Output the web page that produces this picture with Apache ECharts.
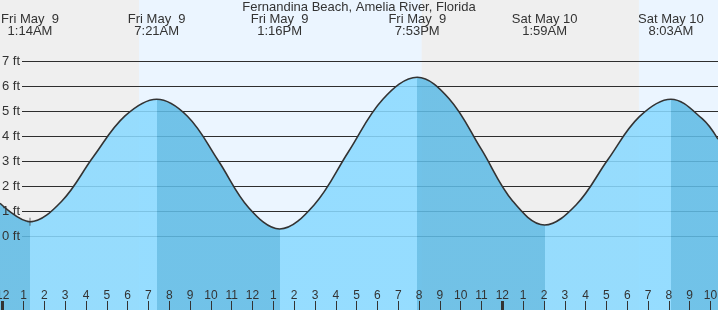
<!DOCTYPE html>
<html>
<head>
<meta charset="utf-8">
<script src="https://cdn.jsdelivr.net/npm/echarts@6/dist/echarts.min.js"></script>
<style>
  html, body { margin: 0; padding: 0; background: #efefef; }
  #chart { width: 718px; height: 310px; }
</style>
</head>
<body>
<div id="chart"></div>
<script>
// ---------- data ----------
const chartTitle = 'Fernandina Beach, Amelia River, Florida';

// hours since midnight, Fri May 9
const eventHours = [1.311, 7.397, 13.304, 19.914, 26.033, 32.099];
const eventFeet  = [0.60, 5.50, 0.31, 6.38, 0.47, 5.50];
const eventKinds = ['L', 'H', 'L', 'H', 'L', 'H'];
const eventDates = ['Fri May  9', 'Fri May  9', 'Fri May  9', 'Fri May  9', 'Sat May 10', 'Sat May 10'];
const eventTimes = ['1:14AM', '7:21AM', '1:16PM', '7:53PM', '1:59AM', '8:03AM'];

// daylight periods (sunrise, sunset) in hours
const daylightStart = [6.547, 30.562];
const daylightEnd   = [20.125, 34.36];

// tide curve samples: extremes plus readings at quarter points between them
const curveHours = [-0.13, 1.311, 2.833, 4.354, 5.876, 7.397, 8.874, 10.351, 11.827, 13.304,
  14.957, 16.609, 18.262, 19.914, 21.444, 22.974, 24.503, 26.033, 27.55, 29.066,
  30.583, 32.099, 33.6, 34.36];
const curveFeet = [1.34, 0.60, 1.42, 3.20, 4.83, 5.50, 4.82, 3.05, 1.15, 0.31,
  1.27, 3.40, 5.50, 6.38, 5.52, 3.52, 1.42, 0.47, 1.28, 3.08,
  4.80, 5.50, 4.72, 3.90];

const feetTicks = [0, 1, 2, 3, 4, 5, 6, 7];
const hourTicks = [];
for (let h = 0; h <= 34; h++) hourTicks.push(h);
const hourLabels = ['12','1','2','3','4','5','6','7','8','9','10','11',
  '12','1','2','3','4','5','6','7','8','9','10','11',
  '12','1','2','3','4','5','6','7','8','9','10'];
const midnightTicks = [0, 24];

// ---------- styling ----------
const X_MIN = -0.13, X_MAX = 34.36;
const Y_MIN = -2.932, Y_MAX = 9.468;
const FONT = '"Liberation Sans", Arial, sans-serif';
const TEXT = '#333';
const NIGHT = '#efefef', DAY = '#ebf5ff';
const FILL_LIGHT = 'rgb(137,217,255)', FILL_DARK = 'rgb(95,187,229)';
const SMOOTH = 0.37;

// pieces for falling (dark) vs rising (light)
const pieces = [];
let prev = X_MIN - 1;
for (let i = 0; i < eventHours.length; i++) {
  pieces.push({ gte: prev, lt: eventHours[i], color: eventKinds[i] === 'L' ? FILL_DARK : FILL_LIGHT });
  prev = eventHours[i];
}
pieces.push({ gte: prev, lte: X_MAX + 1, color: eventKinds[eventKinds.length - 1] === 'H' ? FILL_DARK : FILL_LIGHT });

const curveData = curveHours.map((h, i) => [h, curveFeet[i]]);
const lowIdx = eventKinds.indexOf('L');

const chart = echarts.init(document.getElementById('chart'), null, { renderer: 'canvas' });
chart.setOption({
  backgroundColor: NIGHT,
  animation: false,
  title: {
    text: chartTitle, left: 'center', top: 0, padding: 0,
    textStyle: { fontFamily: FONT, fontSize: 13, fontWeight: 'normal', color: TEXT, lineHeight: 14 }
  },
  grid: [
    { left: 0, right: 0, top: 0, bottom: 0, containLabel: false, outerBoundsMode: 'none' },
    { left: 22, right: 0, top: 0, bottom: 0, containLabel: false, outerBoundsMode: 'none' }
  ],
  xAxis: [
    {
      type: 'value', gridIndex: 0, min: X_MIN, max: X_MAX, z: 5, position: 'bottom',
      axisLine: { show: false, onZero: false }, splitLine: { show: false },
      axisTick: { show: true, inside: true, length: 9, customValues: hourTicks, lineStyle: { color: TEXT, width: 1 } },
      axisLabel: {
        show: true, inside: true, margin: 8.5, customValues: hourTicks,
        formatter: v => hourLabels[hourTicks.indexOf(Math.round(v))],
        fontFamily: FONT, fontSize: 12, color: TEXT, lineHeight: 12
      }
    },
    {
      type: 'value', gridIndex: 1, min: X_MIN, max: X_MAX, show: false,
      axisLine: { onZero: false }
    },
    {
      type: 'value', gridIndex: 0, min: X_MIN, max: X_MAX, z: 5, position: 'bottom',
      axisLine: { show: false, onZero: false }, splitLine: { show: false },
      axisTick: { show: true, inside: true, length: 9, customValues: midnightTicks, lineStyle: { color: TEXT, width: 3 } },
      axisLabel: { show: false }
    }
  ],
  yAxis: [
    {
      type: 'value', gridIndex: 0, min: Y_MIN, max: Y_MAX, z: 5,
      axisLine: { show: false, onZero: false }, splitLine: { show: false },
      axisTick: { show: false, customValues: feetTicks },
      axisLabel: {
        show: true, inside: true, margin: 2, customValues: feetTicks,
        formatter: v => v + ' ft',
        fontFamily: FONT, fontSize: 13, color: TEXT
      }
    },
    {
      type: 'value', gridIndex: 1, min: Y_MIN, max: Y_MAX, z: 1,
      axisLine: { show: false, onZero: false }, axisLabel: { show: false },
      axisTick: { show: false, customValues: feetTicks },
      splitLine: { show: true, lineStyle: { color: '#2e2e2e', width: 1 } }
    }
  ],
  visualMap: {
    show: false, type: 'piecewise', seriesIndex: 0, dimension: 0, pieces: pieces
  },
  series: [
    {
      type: 'line', xAxisIndex: 0, yAxisIndex: 0, z: 2,
      data: curveData, smooth: SMOOTH, symbol: 'none',
      lineStyle: { width: 0, opacity: 0 },
      areaStyle: { origin: 'start', opacity: 0.87 }
    },
    {
      type: 'line', xAxisIndex: 0, yAxisIndex: 0, z: 3,
      data: curveData, smooth: SMOOTH, symbol: 'none',
      lineStyle: { width: 1.6, color: '#333' },
      markArea: {
        silent: true, z: 0,
        itemStyle: { color: DAY },
        data: daylightStart.map((s, i) => [{ xAxis: s }, { xAxis: daylightEnd[i] }])
      }
    },
    {
      type: 'scatter', xAxisIndex: 0, yAxisIndex: 0, z: 4,
      data: [[eventHours[lowIdx], eventFeet[lowIdx]]],
      symbol: 'path://M5,0L5,10M0,5L10,5', symbolSize: [6, 8],
      itemStyle: { color: 'none', borderColor: '#333', borderWidth: 1 }
    },
    {
      type: 'custom', xAxisIndex: 0, yAxisIndex: 0, z: 6,
      data: eventHours.map((h, i) => [h, eventFeet[i]]),
      renderItem: (params, api) => {
        const i = params.dataIndex;
        const x = api.coord([api.value(0), 0])[0];
        const st = { fill: TEXT, font: '13px ' + FONT, align: 'center', verticalAlign: 'middle' };
        return {
          type: 'group',
          children: [
            { type: 'text', x: x, y: 19.3, style: Object.assign({ text: eventDates[i] }, st) },
            { type: 'text', x: x, y: 31.7, style: Object.assign({ text: eventTimes[i] }, st) }
          ]
        };
      }
    }
  ]
});
</script>
</body>
</html>
